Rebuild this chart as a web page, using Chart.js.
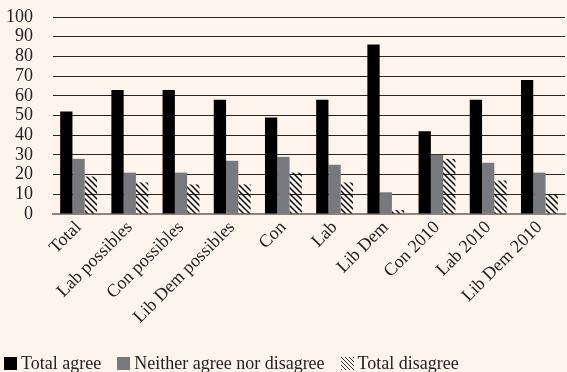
<!DOCTYPE html>
<html>
<head>
<meta charset="utf-8">
<script src="https://cdn.jsdelivr.net/npm/chart.js@4"></script>
<style>
  html, body { margin: 0; padding: 0; background: #fdf5eb; }
  #wrap { position: relative; width: 567px; height: 372px; }
  #legend {
    position: absolute; left: 4px; top: 353px;
    font: 18px "Liberation Serif", serif; color: #222;
    white-space: nowrap; line-height: 20px;
  }
  .item { display: inline-block; margin-right: 16px; }
  .swatch { display: inline-block; width: 13px; height: 13px; margin-right: 4px; vertical-align: -1px; }
</style>
</head>
<body>
<div id="wrap">
  <canvas id="chart"></canvas>
  <div id="legend"></div>
</div>
<script>
  const categories = [
    "Total", "Lab possibles", "Con possibles", "Lib Dem possibles", "Con",
    "Lab", "Lib Dem", "Con 2010", "Lab 2010", "Lib Dem 2010"
  ];
  const seriesNames = ["Total agree", "Neither agree nor disagree", "Total disagree"];
  const totalAgree = [52, 63, 63, 58, 49, 58, 86, 42, 58, 68];
  const neither = [28, 21, 21, 27, 29, 25, 11, 30, 26, 21];
  const totalDisagree = [19, 16, 15, 15, 21, 16, 2, 28, 17, 10];
  const yTicks = [0, 10, 20, 30, 40, 50, 60, 70, 80, 90, 100];

  // diagonal hatch for the "disagree" bars
  function makeHatch(size, width) {
    const c = document.createElement("canvas");
    c.width = size; c.height = size;
    const g = c.getContext("2d");
    g.strokeStyle = "#000";
    g.lineWidth = width;
    g.beginPath();
    g.moveTo(-1, -1); g.lineTo(size + 1, size + 1);
    g.moveTo(-1, size - 1); g.lineTo(1, size + 1);
    g.moveTo(size - 1, -1); g.lineTo(size + 1, 1);
    g.stroke();
    return c;
  }

  const ctx = document.getElementById("chart").getContext("2d");
  const hatch = ctx.createPattern(makeHatch(6, 1.5), "repeat");
  const fonts = { family: "'Liberation Serif', serif", size: 18 };

  const chart = new Chart(ctx, {
    type: "bar",
    data: {
      labels: categories,
      datasets: [
        { label: seriesNames[0], data: totalAgree, backgroundColor: "#000" },
        { label: seriesNames[1], data: neither, backgroundColor: "#78797c" },
        { label: seriesNames[2], data: totalDisagree, backgroundColor: hatch },
      ],
    },
    options: {
      responsive: true,
      maintainAspectRatio: false,
      animation: false,
      datasets: { bar: { categoryPercentage: 0.72, barPercentage: 1, borderWidth: 0 } },
      layout: { padding: { top: 0, left: 0, right: 2, bottom: 0 } },
      plugins: { legend: { display: false }, tooltip: { enabled: false } },
      scales: {
        x: {
          grid: { display: false },
          border: { color: "#8d857c", width: 2 },
          ticks: { font: fonts, color: "#222", maxRotation: 45, minRotation: 45, autoSkip: false, padding: -5 },
          afterFit: (scale) => { scale.height = 158; },
        },
        y: {
          min: 0, max: 100,
          afterBuildTicks: (scale) => { scale.ticks = yTicks.map((v) => ({ value: v })); },
          grid: {
            drawTicks: false,
            color: (c) => (c.tick && c.tick.value === 0 ? "rgba(0,0,0,0)" : "#262626"),
          },
          border: { display: false },
          ticks: { font: fonts, color: "#222", padding: 20, autoSkip: false },
          afterFit: (scale) => {
            scale.width = 53;
            scale.paddingTop = 17;
            scale.paddingBottom = 10;
          },
        },
      },
    },
  });

  // html legend built from the datasets
  const legend = document.getElementById("legend");
  chart.data.datasets.forEach((ds, i) => {
    const item = document.createElement("span");
    item.className = "item";
    const sw = document.createElement(i === 2 ? "canvas" : "span");
    sw.className = "swatch";
    if (i === 2) {
      sw.width = 13; sw.height = 13;
      const g = sw.getContext("2d");
      g.fillStyle = g.createPattern(makeHatch(4, 0.8), "repeat");
      g.fillRect(0, 0, 13, 13);
    } else {
      sw.style.background = ds.backgroundColor;
    }
    item.appendChild(sw);
    item.appendChild(document.createTextNode(ds.label));
    legend.appendChild(item);
  });
</script>
</body>
</html>
